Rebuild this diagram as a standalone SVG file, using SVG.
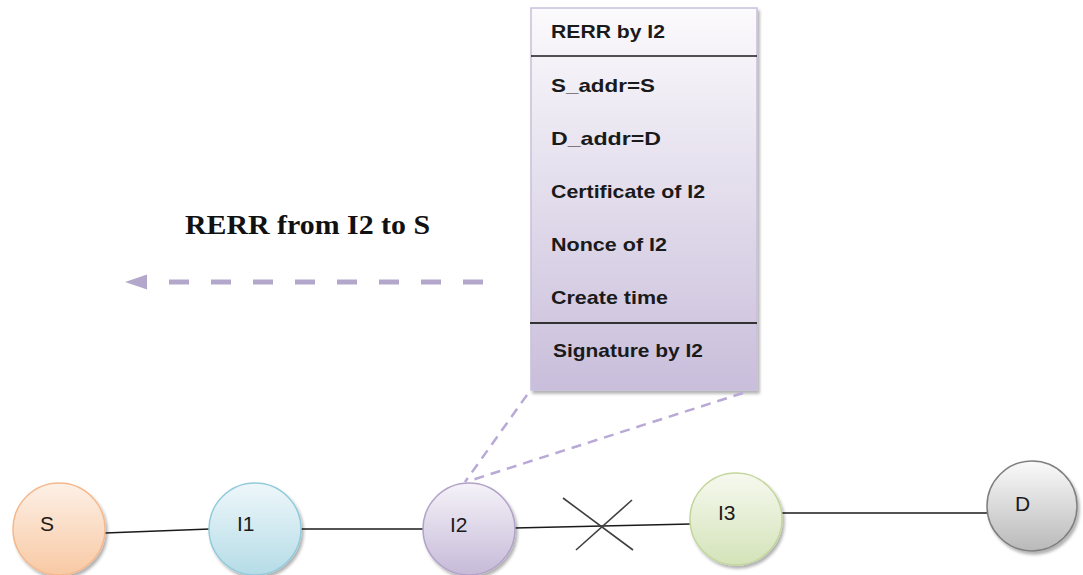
<svg xmlns="http://www.w3.org/2000/svg" width="1083" height="575" viewBox="0 0 1083 575">
  <defs>
    <linearGradient id="gBox" x1="0" y1="0" x2="0" y2="1">
      <stop offset="0" stop-color="#fbfafc"/>
      <stop offset="1" stop-color="#c9bedb"/>
    </linearGradient>
    <linearGradient id="gS" x1="0" y1="0" x2="0" y2="1">
      <stop offset="0" stop-color="#fdf0e6"/>
      <stop offset="1" stop-color="#f8c9a4"/>
    </linearGradient>
    <linearGradient id="gI1" x1="0" y1="0" x2="0" y2="1">
      <stop offset="0" stop-color="#eef7fa"/>
      <stop offset="1" stop-color="#b5dce7"/>
    </linearGradient>
    <linearGradient id="gI2" x1="0" y1="0" x2="0" y2="1">
      <stop offset="0" stop-color="#f5f2f8"/>
      <stop offset="1" stop-color="#c6bad8"/>
    </linearGradient>
    <linearGradient id="gI3" x1="0" y1="0" x2="0" y2="1">
      <stop offset="0" stop-color="#f6f9ef"/>
      <stop offset="1" stop-color="#d4e3b9"/>
    </linearGradient>
    <linearGradient id="gD" x1="0" y1="0" x2="0" y2="1">
      <stop offset="0" stop-color="#fafafa"/>
      <stop offset="1" stop-color="#b9b9b9"/>
    </linearGradient>
    <filter id="shadow" x="-20%" y="-20%" width="140%" height="140%">
      <feDropShadow dx="2" dy="3" stdDeviation="1.5" flood-color="#000" flood-opacity="0.3"/>
    </filter>
    <marker id="arrowHead" viewBox="0 0 10 10" refX="1" refY="5" markerWidth="4.5" markerHeight="4.5" orient="auto-start-reverse" markerUnits="strokeWidth">
      <path d="M0,1.6 L10,5 L0,8.4 z" fill="#b4a7cc"/>
    </marker>
    <style>
      .field { font-family: "Liberation Sans", Arial, sans-serif; font-weight: bold; font-size: 18.5px; fill: #1a1a1a; }
      .nodeLabel { font-family: "Liberation Sans", Arial, sans-serif; font-size: 21px; fill: #1a1a1a; }
      .link { stroke: #1a1a1a; stroke-width: 1.6; fill: none; }
      .callout { stroke: #b9a9d6; stroke-width: 2.5; stroke-dasharray: 10 7; fill: none; }
      .cross { stroke: #404040; stroke-width: 1.6; }
    </style>
  </defs>

  <!-- message box: RERR fields -->
  <g id="rerr-box">
    <rect x="531" y="8" width="226" height="382" fill="url(#gBox)" stroke="#c9bedb" stroke-width="1.5" filter="url(#shadow)"/>
    <line x1="531" y1="56" x2="757" y2="56" stroke="#1a1a1a" stroke-width="1.5"/>
    <line x1="530" y1="323" x2="757" y2="323" stroke="#333" stroke-width="2"/>
    <text class="field" x="551" y="38" textLength="114" lengthAdjust="spacingAndGlyphs">RERR by I2</text>
    <text class="field" x="551" y="92" textLength="104" lengthAdjust="spacingAndGlyphs">S_addr=S</text>
    <text class="field" x="551" y="145" textLength="110" lengthAdjust="spacingAndGlyphs">D_addr=D</text>
    <text class="field" x="551" y="198" textLength="154" lengthAdjust="spacingAndGlyphs">Certificate of I2</text>
    <text class="field" x="551" y="251" textLength="116" lengthAdjust="spacingAndGlyphs">Nonce of I2</text>
    <text class="field" x="551" y="304" textLength="117" lengthAdjust="spacingAndGlyphs">Create time</text>
    <text class="field" x="553" y="357" textLength="150" lengthAdjust="spacingAndGlyphs">Signature by I2</text>
  </g>

  <!-- caption of the message direction -->
  <g id="direction-label">
    <text x="185" y="234" font-family="Liberation Serif, 'Times New Roman', serif" font-weight="bold" font-size="27" fill="#111" textLength="245" lengthAdjust="spacingAndGlyphs">RERR from I2 to S</text>
  </g>

  <!-- connectors -->
  <g id="connectors">
    <line class="link" x1="105" y1="533" x2="210" y2="529"/>
    <line class="link" x1="301" y1="529" x2="424" y2="529"/>
    <line class="link" x1="514" y1="528" x2="691" y2="524"/>
    <line class="link" x1="782" y1="513" x2="987" y2="513"/>
    <!-- broken link mark -->
    <line class="cross" x1="563" y1="498" x2="633" y2="550"/>
    <line class="cross" x1="576" y1="550" x2="632" y2="500"/>
    <!-- callout from box to I2 -->
    <line class="callout" x1="527" y1="395" x2="465" y2="482"/>
    <line class="callout" x1="743" y1="393" x2="472" y2="480"/>
    <!-- RERR travel direction -->
    <line x1="483" y1="282" x2="145" y2="282" stroke="#b4a7cc" stroke-width="5" stroke-dasharray="20 22" marker-end="url(#arrowHead)"/>
  </g>

  <!-- nodes -->
  <g id="node-S">
    <circle cx="59" cy="529" r="46" fill="url(#gS)" stroke="#f5b88c" stroke-width="1.5" filter="url(#shadow)"/>
    <text class="nodeLabel" x="40" y="531">S</text>
  </g>
  <g id="node-I1">
    <circle cx="255" cy="529" r="46" fill="url(#gI1)" stroke="#92cbdc" stroke-width="1.5" filter="url(#shadow)"/>
    <text class="nodeLabel" x="237" y="531">I1</text>
  </g>
  <g id="node-I2">
    <circle cx="469" cy="529" r="46" fill="url(#gI2)" stroke="#b2a2c8" stroke-width="1.5" filter="url(#shadow)"/>
    <text class="nodeLabel" x="450" y="532">I2</text>
  </g>
  <g id="node-I3">
    <circle cx="736" cy="519" r="46" fill="url(#gI3)" stroke="#c3d69b" stroke-width="1.5" filter="url(#shadow)"/>
    <text class="nodeLabel" x="718" y="520">I3</text>
  </g>
  <g id="node-D">
    <circle cx="1032" cy="506" r="45" fill="url(#gD)" stroke="#7f7f7f" stroke-width="1.5" filter="url(#shadow)"/>
    <text class="nodeLabel" x="1015" y="511">D</text>
  </g>
</svg>
